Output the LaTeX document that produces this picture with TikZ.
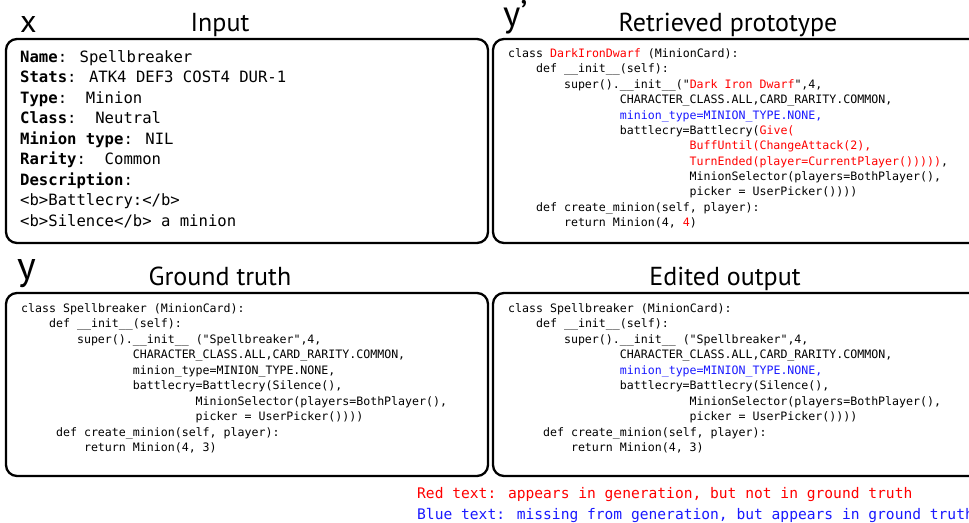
\documentclass[tikz,border=0pt]{standalone}
\usepackage{fontspec}
\setmainfont{PT Sans}
\newfontfamily\codefont{DejaVu Sans Mono}
\definecolor{gentext}{RGB}{255,0,0}
\definecolor{misstext}{RGB}{25,25,255}
\newcommand\gen[1]{\textcolor{gentext}{#1}}
\newcommand\miss[1]{\textcolor{misstext}{#1}}

\begin{document}
\begin{tikzpicture}[x=1pt,y=-1pt,
    panel/.style={draw, line width=2.3pt, rounded corners=11pt},
    title/.style={font=\fontsize{26}{30}\selectfont, anchor=base, inner sep=0},
    varname/.style={font=\fontsize{#1}{#1}\selectfont, anchor=base west, inner sep=0},
    card/.style={font=\codefont\fontsize{15.6}{20.5}\selectfont, anchor=base west, inner sep=0},
    code/.style={font=\codefont\fontsize{11.6}{15.4}\selectfont, anchor=base west, inner sep=0},
    legend/.style={font=\codefont\fontsize{14.6}{20}\selectfont, anchor=base west, inner sep=0}]
  \useasboundingbox (0,0) rectangle (969,522);

  % panels
  \draw[panel] (6,39) rectangle (488,243);
  \draw[panel] (493,39) rectangle (982,243);
  \draw[panel] (6,293) rectangle (488,476);
  \draw[panel] (493,293) rectangle (982,476);

  % titles
  \node[varname=32] (xlbl) at (20,32) {x};
  \node[title] (intitle) at (220,31) {Input};
  \node[varname=37] (yplbl) at (503,26) {y’};
  \node[title] (rettitle) at (728,31) {Retrieved prototype};
  \node[varname=40] (ylbl) at (17,279) {y};
  \node[title] (gttitle) at (220,285) {Ground truth};
  \node[title] (edtitle) at (725,285) {Edited output};

  % input card
  \foreach \txt [count=\i from 0] in {
      {\textbf{Name}: Spellbreaker},
      {\textbf{Stats}: ATK4 DEF3 COST4 DUR-1},
      {\textbf{Type}:\ \ Minion},
      {\textbf{Class}:\ \ Neutral},
      {\textbf{Minion type}: NIL},
      {\textbf{Rarity}:\ \ Common},
      {\textbf{Description}:},
      {<b>Battlecry:</b>},
      {<b>Silence</b> a minion}}
    \node[card] (in\i) at (20,{62.3+20.5*\i}) {\txt};

  % retrieved prototype
  \foreach \ind/\txt [count=\i from 0] in {
      0/{class \gen{DarkIronDwarf} (MinionCard):},
      4/{def \_\_init\_\_(self):},
      8/{super().\_\_init\_\_("\gen{Dark Iron Dwarf}",4,},
      16/{CHARACTER\_CLASS.ALL,CARD\_RARITY.COMMON,},
      16/{\miss{minion\_type=MINION\_TYPE.NONE,}},
      16/{battlecry=Battlecry(\gen{Give(}},
      26/{\gen{BuffUntil(ChangeAttack(2),}},
      26/{\gen{TurnEnded(player=CurrentPlayer()))))},},
      26/{MinionSelector(players=BothPlayer(),},
      26/{picker = UserPicker())))},
      4/{def create\_minion(self, player):},
      8/{return Minion(4, \gen{4})}}
    \node[code] (ret\i) at ({508+6.98*\ind},{57.6+15.35*\i}) {\txt};

  % ground truth
  \foreach \ind/\txt [count=\i from 0] in {
      0/{class Spellbreaker (MinionCard):},
      4/{def \_\_init\_\_(self):},
      8/{super().\_\_init\_\_ ("Spellbreaker",4,},
      16/{CHARACTER\_CLASS.ALL,CARD\_RARITY.COMMON,},
      16/{minion\_type=MINION\_TYPE.NONE,},
      16/{battlecry=Battlecry(Silence(),},
      25/{MinionSelector(players=BothPlayer(),},
      25/{picker = UserPicker())))},
      5/{def create\_minion(self, player):},
      9/{return Minion(4, 3)}}
    \node[code] (gt\i) at ({21+6.98*\ind},{312.5+15.45*\i}) {\txt};

  % edited output
  \foreach \ind/\txt [count=\i from 0] in {
      0/{class Spellbreaker (MinionCard):},
      4/{def \_\_init\_\_(self):},
      8/{super().\_\_init\_\_ ("Spellbreaker",4,},
      16/{CHARACTER\_CLASS.ALL,CARD\_RARITY.COMMON,},
      16/{\miss{minion\_type=MINION\_TYPE.NONE,}},
      16/{battlecry=Battlecry(Silence(),},
      26/{MinionSelector(players=BothPlayer(),},
      26/{picker = UserPicker())))},
      5/{def create\_minion(self, player):},
      9/{return Minion(4, 3)}}
    \node[code] (ed\i) at ({508+6.98*\ind},{312.5+15.45*\i}) {\txt};

  % legend
  \node[legend, text=gentext] (legred) at (417,498.5)
    {Red text: appears in generation, but not in ground truth};
  \node[legend, text=misstext] (legblue) at (417,519)
    {Blue text: missing from generation, but appears in ground truth};
\end{tikzpicture}
\end{document}
